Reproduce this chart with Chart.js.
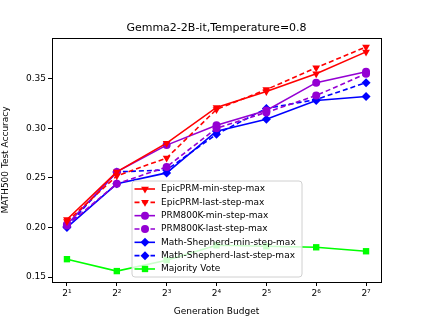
<!DOCTYPE html>
<html>
<head>
<meta charset="utf-8">
<script src="https://cdn.jsdelivr.net/npm/chart.js@4/dist/chart.umd.min.js"></script>
<style>
  html, body { margin: 0; padding: 0; background: #fff; }
  #wrap { width: 423px; height: 317px; }
</style>
</head>
<body>
<div id="wrap"><canvas id="grafico"></canvas></div>
<script>
// dados
const budgets = [2, 4, 8, 16, 32, 64, 128];
const epicMin = [0.208, 0.256, 0.285, 0.321, 0.337, 0.355, 0.377];
const epicLast = [0.206, 0.252, 0.270, 0.319, 0.339, 0.361, 0.382];
const prmMin = [0.203, 0.256, 0.283, 0.303, 0.318, 0.346, 0.357];
const prmLast = [0.202, 0.244, 0.261, 0.300, 0.316, 0.333, 0.355];
const shepMin = [0.200, 0.244, 0.255, 0.297, 0.309, 0.328, 0.332];
const shepLast = [0.201, 0.256, 0.258, 0.294, 0.320, 0.329, 0.346];
const majority = [0.168, 0.156, 0.167, 0.182, 0.181, 0.180, 0.176];
const yTicks = [0.15, 0.20, 0.25, 0.30, 0.35];
const xTicks = [1, 2, 3, 4, 5, 6, 7];

const FONT = 'DejaVu Sans';
const sup = { '1': '\u00b9', '2': '\u00b2', '3': '\u00b3', '4': '\u2074', '5': '\u2075', '6': '\u2076', '7': '\u2077' };

function serie(label, valores, cor, estilo, tracejado) {
    return {
        label: label,
        data: valores.map((v, i) => ({ x: Math.log2(budgets[i]), y: v })),
        borderColor: cor,
        backgroundColor: cor,
        borderWidth: 1.6,
        borderDash: tracejado ? [5, 3] : [],
        pointStyle: estilo,
        pointRotation: estilo === 'triangle' ? 180 : 0,
        pointRadius: estilo === 'circle' ? 4 : 4.5,
        pointBorderWidth: 0,
        fill: false,
        tension: 0
    };
}

const datasets = [
    serie('EpicPRM-min-step-max', epicMin, '#ff0000', 'triangle', false),
    serie('EpicPRM-last-step-max', epicLast, '#ff0000', 'triangle', true),
    serie('PRM800K-min-step-max', prmMin, '#9400d3', 'circle', false),
    serie('PRM800K-last-step-max', prmLast, '#9400d3', 'circle', true),
    serie('Math-Shepherd-min-step-max', shepMin, '#0000ff', 'rectRot', false),
    serie('Math-Shepherd-last-step-max', shepLast, '#0000ff', 'rectRot', true),
    serie('Majority Vote', majority, '#00ff00', 'rect', false)
];

// caixa em volta da area do grafico
const moldura = {
    id: 'moldura',
    afterDraw(chart) {
        const a = chart.chartArea, ctx = chart.ctx;
        ctx.save();
        ctx.strokeStyle = '#000';
        ctx.lineWidth = 1;
        ctx.strokeRect(Math.round(a.left) + 0.5, Math.round(a.top) + 0.5,
            Math.round(a.right - a.left), Math.round(a.bottom - a.top));
        ctx.restore();
    }
};

// legenda dentro do grafico, estilo matplotlib
const legenda = {
    id: 'legenda',
    afterDraw(chart) {
        const ctx = chart.ctx;
        const x0 = 132, y0 = 181, w = 170, h = 96, r = 3;
        ctx.save();
        ctx.beginPath();
        ctx.moveTo(x0 + r, y0);
        ctx.arcTo(x0 + w, y0, x0 + w, y0 + h, r);
        ctx.arcTo(x0 + w, y0 + h, x0, y0 + h, r);
        ctx.arcTo(x0, y0 + h, x0, y0, r);
        ctx.arcTo(x0, y0, x0 + w, y0, r);
        ctx.closePath();
        ctx.fillStyle = 'rgba(255,255,255,0.8)';
        ctx.fill();
        ctx.strokeStyle = '#d0d0d0';
        ctx.lineWidth = 1;
        ctx.stroke();
        ctx.font = '9px "' + FONT + '"';
        ctx.textBaseline = 'middle';
        chart.data.datasets.forEach((ds, i) => {
            const y = 189 + i * 13.33;
            ctx.strokeStyle = ds.borderColor;
            ctx.lineWidth = ds.borderWidth;
            ctx.setLineDash(ds.borderDash);
            ctx.beginPath();
            ctx.moveTo(134.5, y);
            ctx.lineTo(155, y);
            ctx.stroke();
            ctx.setLineDash([]);
            ctx.fillStyle = ds.borderColor;
            Chart.helpers.drawPoint(ctx, {
                pointStyle: ds.pointStyle,
                rotation: ds.pointRotation,
                radius: ds.pointRadius,
                borderWidth: 0
            }, 145, y);
            ctx.fillStyle = '#000';
            ctx.textAlign = 'left';
            ctx.fillText(ds.label, 161, y);
        });
        ctx.restore();
    }
};

new Chart(document.getElementById('grafico'), {
    type: 'line',
    data: { datasets: datasets },
    plugins: [moldura, legenda],
    options: {
        responsive: true,
        maintainAspectRatio: false,
        animation: false,
        layout: { padding: { left: 0, right: 42, top: 0, bottom: 0 } },
        scales: {
            x: {
                type: 'linear',
                min: 0.7,
                max: 7.3,
                afterBuildTicks: (s) => { s.ticks = xTicks.map(v => ({ value: v })); },
                afterFit: (s) => { s.height = 35; },
                grid: { drawOnChartArea: false, drawTicks: true, tickLength: 4, color: '#000' },
                border: { color: '#000' },
                ticks: {
                    color: '#000',
                    font: { family: FONT, size: 9 },
                    padding: 2,
                    maxRotation: 0,
                    callback: (v) => '2' + sup[String(v)]
                },
                title: {
                    display: true,
                    text: 'Generation Budget',
                    color: '#000',
                    font: { family: FONT, size: 9 },
                    padding: { top: 3, bottom: 0 }
                }
            },
            y: {
                min: 0.145,
                max: 0.391,
                afterBuildTicks: (s) => { s.ticks = yTicks.map(v => ({ value: v })); },
                afterFit: (s) => { s.width = 52; },
                grid: { drawOnChartArea: false, drawTicks: true, tickLength: 4, color: '#000' },
                border: { color: '#000' },
                ticks: {
                    color: '#000',
                    font: { family: FONT, size: 9 },
                    padding: 2,
                    callback: (v) => v.toFixed(2)
                },
                title: {
                    display: true,
                    text: 'MATH500 Test Accuracy',
                    color: '#000',
                    font: { family: FONT, size: 9 },
                    padding: { top: 0, bottom: 2 }
                }
            }
        },
        plugins: {
            legend: { display: false },
            tooltip: { enabled: false },
            title: {
                display: true,
                fullSize: false,
                text: 'Gemma2-2B-it,Temperature=0.8',
                color: '#000',
                font: { family: FONT, size: 11, weight: 'normal' },
                padding: { top: 22, bottom: 2.8 }
            }
        }
    }
});
</script>
</body>
</html>
